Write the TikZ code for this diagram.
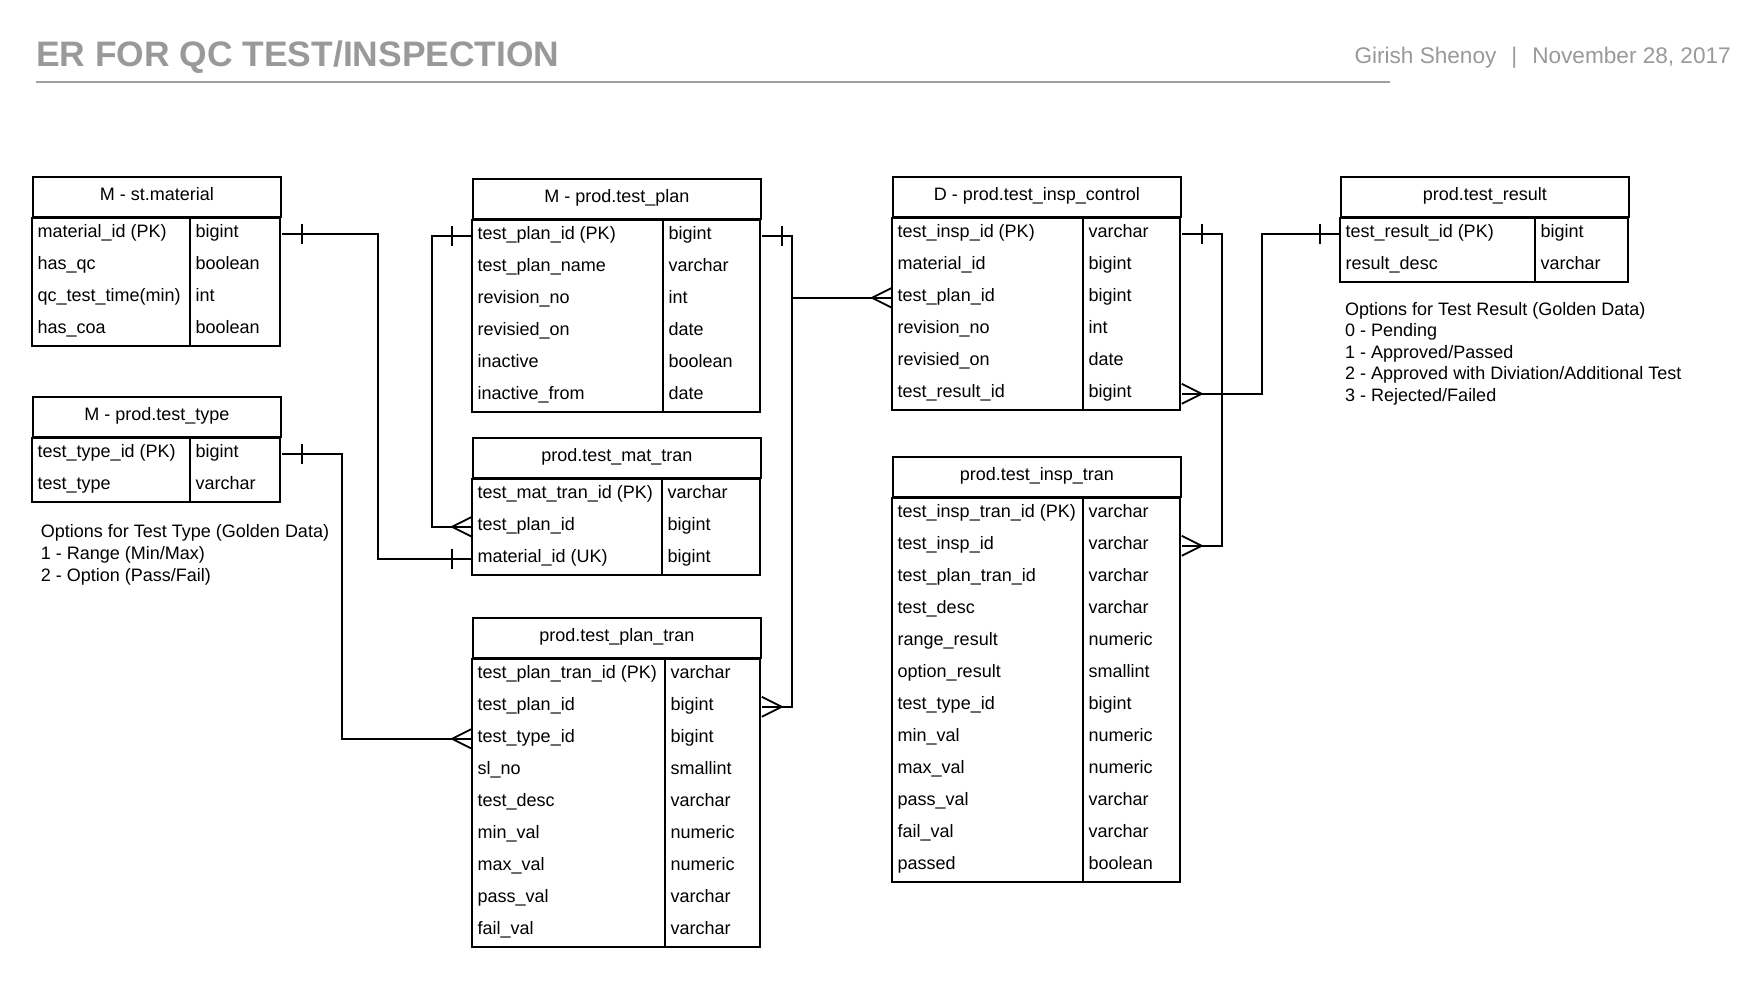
\documentclass[tikz,border=0pt]{standalone}
\usepackage{fontspec}
\setmainfont{Liberation Sans}
\usepackage{xcolor}
\usepackage{tikz}
\usetikzlibrary{positioning, calc}
\definecolor{tgray}{RGB}{153,153,153}
\definecolor{lgray}{RGB}{160,160,160}

\begin{document}
\begin{tikzpicture}[x=1pt, y=-1pt, every node/.style={font=\fontsize{18}{21}\selectfont},
        hdr/.style={draw, line width=1.8pt, anchor=north west, minimum height=40pt, inner sep=0pt, text height=13pt, text depth=5pt},
        fld/.style={anchor=base west, inner sep=0pt},
        bx/.style={line width=1.8pt},
        dv/.style={line width=1.6pt},
        lnk/.style={line width=1.8pt},
        note/.style={anchor=base west, inner sep=0pt},
        one/.pic={\draw[line width=1.8pt] (-20,-10) -- (-20,10);},
        crow/.pic={\draw[line width=1.8pt] (0,-10) -- (-20,0) -- (0,10);}]
      \fill[white] (0,0) rectangle (1760,985);
      \useasboundingbox (0,0) rectangle (1760,985);

      % heading
      \node[anchor=base west, inner sep=0pt, text=tgray, font=\fontsize{35.4}{40}\selectfont\bfseries] (title) at (36,66.7) {ER FOR QC TEST/INSPECTION};
      \node[anchor=base east, inner sep=0pt, text=tgray, font=\fontsize{22.6}{26}\selectfont] (byline) at (1731,63.3) {Girish Shenoy\hspace{15pt}|\hspace{15pt}November 28, 2017};
      \draw[lgray, line width=2pt] (36,81.7) -- (1390,81.7);

      % M - st.material
      \node[hdr, minimum width=248pt] (mat) at (32,176) {M - st.material};
      \foreach \f/\t [count=\i] in {material\_id (PK)/bigint, has\_qc/boolean, qc\_test\_time(min)/int, has\_coa/boolean} {
        \coordinate (mat-r\i) at ($(mat.south west)+(0,32*\i-16)$);
        \node[fld] (mat-f\i) at ($(mat-r\i)+(5.5,4)$) {\f};
        \node[fld] (mat-t\i) at ($(mat-r\i)+(163.5,4)$) {\t};
      }
      \draw[bx] (mat.south west) rectangle ++(248,128);
      \draw[dv] ($(mat.south west)+(158,0)$) -- ++(0,128);

      % M - prod.test_type
      \node[hdr, minimum width=248pt] (ttype) at (32,396) {M - prod.test\_type};
      \foreach \f/\t [count=\i] in {test\_type\_id (PK)/bigint, test\_type/varchar} {
        \coordinate (ttype-r\i) at ($(ttype.south west)+(0,32*\i-16)$);
        \node[fld] (ttype-f\i) at ($(ttype-r\i)+(5.5,4)$) {\f};
        \node[fld] (ttype-t\i) at ($(ttype-r\i)+(163.5,4)$) {\t};
      }
      \draw[bx] (ttype.south west) rectangle ++(248,64);
      \draw[dv] ($(ttype.south west)+(158,0)$) -- ++(0,64);
      \foreach \l [count=\i] in {{Options for Test Type (Golden Data)}, {1 - Range (Min/Max)}, {2 - Option (Pass/Fail)}} {
        \node[note] (tnote\i) at (40.7,{537.5+21.8*(\i-1)}) {\l};
      }

      % M - prod.test_plan
      \node[hdr, minimum width=288pt] (plan) at (472,178) {M - prod.test\_plan};
      \foreach \f/\t [count=\i] in {test\_plan\_id (PK)/bigint, test\_plan\_name/varchar, revision\_no/int, revisied\_on/date, inactive/boolean, inactive\_from/date} {
        \coordinate (plan-r\i) at ($(plan.south west)+(0,32*\i-16)$);
        \node[fld] (plan-f\i) at ($(plan-r\i)+(5.5,4)$) {\f};
        \node[fld] (plan-t\i) at ($(plan-r\i)+(196.5,4)$) {\t};
      }
      \draw[bx] (plan.south west) rectangle ++(288,192);
      \draw[dv] ($(plan.south west)+(191,0)$) -- ++(0,192);

      % prod.test_mat_tran
      \node[hdr, minimum width=288pt] (mtran) at (472,437) {prod.test\_mat\_tran};
      \foreach \f/\t [count=\i] in {test\_mat\_tran\_id (PK)/varchar, test\_plan\_id/bigint, material\_id (UK)/bigint} {
        \coordinate (mtran-r\i) at ($(mtran.south west)+(0,32*\i-16)$);
        \node[fld] (mtran-f\i) at ($(mtran-r\i)+(5.5,4)$) {\f};
        \node[fld] (mtran-t\i) at ($(mtran-r\i)+(195.5,4)$) {\t};
      }
      \draw[bx] (mtran.south west) rectangle ++(288,96);
      \draw[dv] ($(mtran.south west)+(190,0)$) -- ++(0,96);

      % prod.test_plan_tran
      \node[hdr, minimum width=288pt] (ptran) at (472,617) {prod.test\_plan\_tran};
      \foreach \f/\t [count=\i] in {test\_plan\_tran\_id (PK)/varchar, test\_plan\_id/bigint, test\_type\_id/bigint, sl\_no/smallint, test\_desc/varchar, min\_val/numeric, max\_val/numeric, pass\_val/varchar, fail\_val/varchar} {
        \coordinate (ptran-r\i) at ($(ptran.south west)+(0,32*\i-16)$);
        \node[fld] (ptran-f\i) at ($(ptran-r\i)+(5.5,4)$) {\f};
        \node[fld] (ptran-t\i) at ($(ptran-r\i)+(198.5,4)$) {\t};
      }
      \draw[bx] (ptran.south west) rectangle ++(288,288);
      \draw[dv] ($(ptran.south west)+(193,0)$) -- ++(0,288);

      % D - prod.test_insp_control
      \node[hdr, minimum width=288pt] (ictl) at (892,176) {D - prod.test\_insp\_control};
      \foreach \f/\t [count=\i] in {test\_insp\_id (PK)/varchar, material\_id/bigint, test\_plan\_id/bigint, revision\_no/int, revisied\_on/date, test\_result\_id/bigint} {
        \coordinate (ictl-r\i) at ($(ictl.south west)+(0,32*\i-16)$);
        \node[fld] (ictl-f\i) at ($(ictl-r\i)+(5.5,4)$) {\f};
        \node[fld] (ictl-t\i) at ($(ictl-r\i)+(196.5,4)$) {\t};
      }
      \draw[bx] (ictl.south west) rectangle ++(288,192);
      \draw[dv] ($(ictl.south west)+(191,0)$) -- ++(0,192);

      % prod.test_insp_tran
      \node[hdr, minimum width=288pt] (itran) at (892,456) {prod.test\_insp\_tran};
      \foreach \f/\t [count=\i] in {test\_insp\_tran\_id (PK)/varchar, test\_insp\_id/varchar, test\_plan\_tran\_id/varchar, test\_desc/varchar, range\_result/numeric, option\_result/smallint, test\_type\_id/bigint, min\_val/numeric, max\_val/numeric, pass\_val/varchar, fail\_val/varchar, passed/boolean} {
        \coordinate (itran-r\i) at ($(itran.south west)+(0,32*\i-16)$);
        \node[fld] (itran-f\i) at ($(itran-r\i)+(5.5,4)$) {\f};
        \node[fld] (itran-t\i) at ($(itran-r\i)+(196.5,4)$) {\t};
      }
      \draw[bx] (itran.south west) rectangle ++(288,384);
      \draw[dv] ($(itran.south west)+(191,0)$) -- ++(0,384);

      % prod.test_result
      \node[hdr, minimum width=288pt] (res) at (1340,176) {prod.test\_result};
      \foreach \f/\t [count=\i] in {test\_result\_id (PK)/bigint, result\_desc/varchar} {
        \coordinate (res-r\i) at ($(res.south west)+(0,32*\i-16)$);
        \node[fld] (res-f\i) at ($(res-r\i)+(5.5,4)$) {\f};
        \node[fld] (res-t\i) at ($(res-r\i)+(200.5,4)$) {\t};
      }
      \draw[bx] (res.south west) rectangle ++(288,64);
      \draw[dv] ($(res.south west)+(195,0)$) -- ++(0,64);
      \foreach \l [count=\i] in {{Options for Test Result (Golden Data)}, {0 - Pending}, {1 - Approved/Passed}, {2 - Approved with Diviation/Additional Test}, {3 - Rejected/Failed}} {
        \node[note] (rnote\i) at (1345,{315.5+21.4*(\i-1)}) {\l};
      }

      % relations
      \draw[lnk] (mat.east |- mat-r1) -- ++(96,0) |- (mtran.west |- mtran-r3);
      \pic[xscale=-1] at (mat.east |- mat-r1) {one};
      \pic at (mtran.west |- mtran-r3) {one};

      \draw[lnk] (plan.west |- plan-r1) -- ++(-40,0) |- (mtran.west |- mtran-r2);
      \pic at (plan.west |- plan-r1) {one};
      \pic at (mtran.west |- mtran-r2) {crow};

      \draw[lnk] (plan.east |- plan-r1) -- ++(30,0) coordinate (pbus) |- (ptran.east |- ptran-r2);
      \pic[xscale=-1] at (plan.east |- plan-r1) {one};
      \pic[xscale=-1] at (ptran.east |- ptran-r2) {crow};
      \draw[lnk] (pbus |- ictl-r3) -- (ictl.west |- ictl-r3);
      \pic at (ictl.west |- ictl-r3) {crow};

      \draw[lnk] (ttype.east |- ttype-r1) -- ++(60,0) |- (ptran.west |- ptran-r3);
      \pic[xscale=-1] at (ttype.east |- ttype-r1) {one};
      \pic at (ptran.west |- ptran-r3) {crow};

      \draw[lnk] (ictl.east |- ictl-r1) -- ++(40,0) |- (itran.east |- itran-r2);
      \pic[xscale=-1] at (ictl.east |- ictl-r1) {one};
      \pic[xscale=-1] at (itran.east |- itran-r2) {crow};

      \draw[lnk] (ictl.east |- ictl-r6) -- ++(80,0) |- (res.west |- res-r1);
      \pic[xscale=-1] at (ictl.east |- ictl-r6) {crow};
      \pic at (res.west |- res-r1) {one};
    \end{tikzpicture}
\end{document}
